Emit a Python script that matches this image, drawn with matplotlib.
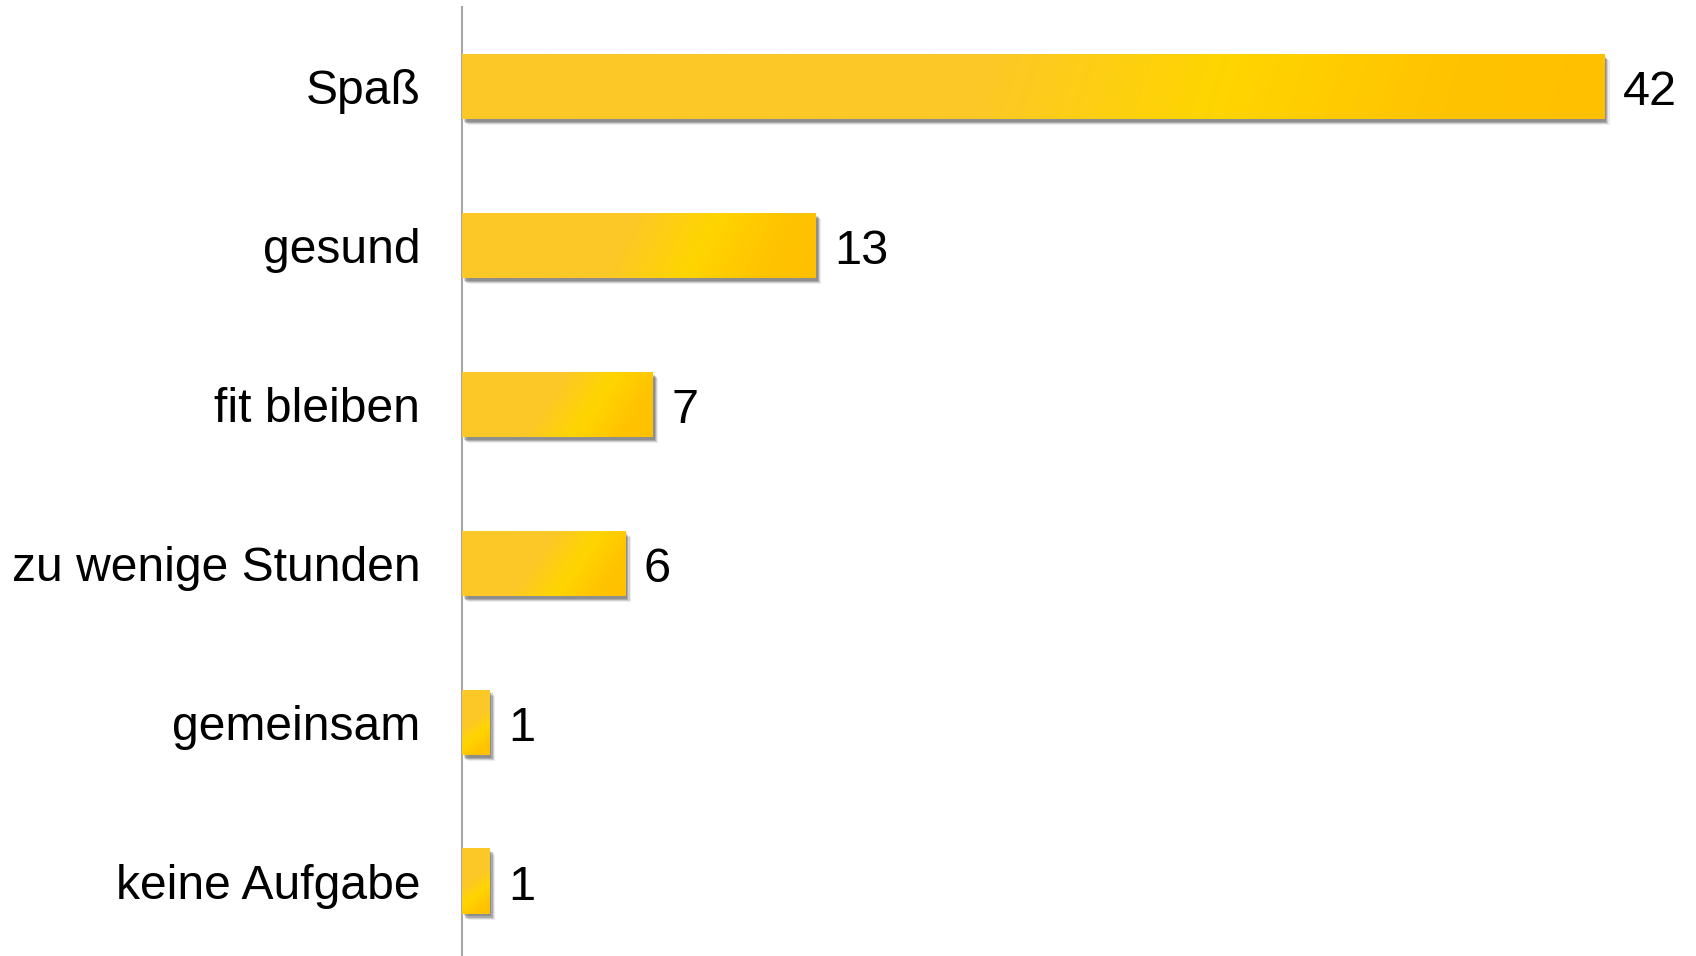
import matplotlib
matplotlib.use("Agg")
import matplotlib.pyplot as plt
import matplotlib.patheffects as pe
from matplotlib.colors import LinearSegmentedColormap
import numpy as np

plt.rcParams['font.family'] = ['Liberation Sans', 'DejaVu Sans']

categories = ["Spaß", "gesund", "fit bleiben", "zu wenige Stunden", "gemeinsam", "keine Aufgabe"]
values = [42, 13, 7, 6, 1, 1]

W, H, DPI = 1696, 956, 100
fig = plt.figure(figsize=(W / DPI, H / DPI), dpi=DPI)
fig.patch.set_facecolor("white")

# axes placed in pixels: left spine at x=462, bands of ~159 px
ax = fig.add_axes([462 / W, -4.5 / H, 1223.6 / W, 953.4 / H])
ax.set_xlim(0, 45)
ax.set_ylim(len(categories) - 0.5, -0.5)

# gold gradient
gold = LinearSegmentedColormap.from_list("gold", [
    (0.00, (252/255, 200/255, 40/255)),
    (0.45, (252/255, 200/255, 40/255)),
    (0.66, (255/255, 213/255, 0/255)),
    (0.86, (255/255, 195/255, 0/255)),
    (1.00, (255/255, 192/255, 0/255)),
])

bar_h = 0.41
px_per_unit = 1223.6 / 45
band_px = 953.4 / len(categories)

shadow = [
    pe.SimplePatchShadow(offset=(1.6, -2.0), shadow_rgbFace="#000000", alpha=0.16),
    pe.SimplePatchShadow(offset=(2.4, -2.8), shadow_rgbFace="#000000", alpha=0.18),
    pe.SimplePatchShadow(offset=(3.2, -3.6), shadow_rgbFace="#000000", alpha=0.12),
    pe.SimplePatchShadow(offset=(4.0, -4.4), shadow_rgbFace="#000000", alpha=0.07),
    pe.Normal(),
]

bars = ax.barh(range(len(categories)), values, height=bar_h, color="#FCC828",
               edgecolor="none", zorder=2)

for i, (b, v) in enumerate(zip(bars, values)):
    b.set_path_effects(shadow)
    w_px = v * px_per_unit
    h_px = bar_h * band_px
    a = min(1.0 * (h_px / w_px) ** 1.4, 3.0)
    u = np.linspace(0, 1, 300)[None, :]
    vv = np.linspace(0, 1, 60)[:, None]
    t = (u + a * vv) / (1 + a)
    im = ax.imshow(t, cmap=gold, vmin=0, vmax=1, aspect="auto", interpolation="bilinear",
                   extent=(0, v, i + bar_h / 2, i - bar_h / 2), zorder=3)
    im.set_clip_path(b)
    ax.annotate(str(v), xy=(v, i), xytext=(13.5, -1.0), textcoords="offset points",
                ha="left", va="center_baseline", fontsize=35, color="black")

ax.set_xlim(0, 45)
ax.set_ylim(len(categories) - 0.5, -0.5)

ax.set_yticks(range(len(categories)))
ax.set_yticklabels(categories, fontsize=34.6)
ax.tick_params(axis="y", length=0, pad=30)
ax.set_xticks([])
for s in ["top", "right", "bottom"]:
    ax.spines[s].set_visible(False)
ax.spines["left"].set_color("#A6A6A6")
ax.spines["left"].set_linewidth(1.5)
ax.set_facecolor("none")

fig.savefig("out.png", dpi=DPI, facecolor="white")
